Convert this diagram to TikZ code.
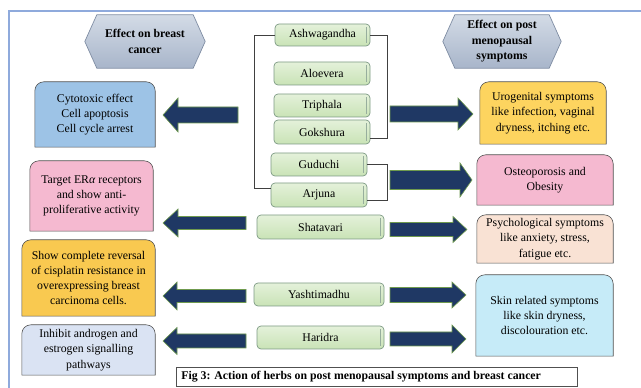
\documentclass[tikz,border=0pt]{standalone}
\usepackage{fontspec}
\setmainfont{Liberation Serif}
\usetikzlibrary{backgrounds}
\definecolor{navy}{HTML}{1F3864}
\definecolor{arrowedge}{HTML}{6F9A4E}
\definecolor{framecol}{HTML}{8FAADC}
\definecolor{cytofill}{HTML}{9DC3E6}
\definecolor{pinkfill}{HTML}{F5B9D0}
\definecolor{yellowL}{HTML}{F9C950}
\definecolor{yellowR}{HTML}{FDD45F}
\definecolor{inhibfill}{HTML}{DAE3F3}
\definecolor{psychfill}{HTML}{F9E2D4}
\definecolor{skinfill}{HTML}{C6EBF8}
\definecolor{herbedge}{HTML}{7D9A84}
\definecolor{herbtop}{HTML}{E4F1DA}
\definecolor{herbbot}{HTML}{C9E3B6}
\definecolor{hextop}{HTML}{D3DBE6}
\definecolor{hexbot}{HTML}{A8B5CA}
\definecolor{hexedge}{HTML}{7F8DA3}
\definecolor{boxedge}{HTML}{505050}
\tikzset{
  basefont/.style={font=\fontsize{11.8}{15.2}\selectfont},
  boxtext/.style={basefont, align=center, inner sep=0pt},
  boxline/.style={draw=boxedge, line width=0.6pt},
  herb/.style={basefont, draw=herbedge, line width=0.7pt, rounded corners=4pt,
    top color=herbtop, bottom color=herbbot, inner sep=0pt,
    path picture={\draw[herbedge!80, line width=0.5pt]
      ([xshift=-3.5pt,yshift=-3pt]path picture bounding box.north east) --
      ([xshift=-3.5pt,yshift=3pt]path picture bounding box.south east);}},
  bracket/.style={draw=black!75, line width=0.8pt},
  blockarrow/.style={fill=navy, draw=arrowedge, line width=0.6pt},
  hextext/.style={font=\fontsize{11.8}{15.5}\selectfont\bfseries, align=center, inner sep=0pt}
}
% name, fill, cx, cy, w, h, text
\newcommand{\mytopbox}[7]{%
  \node[boxtext, minimum width=#5pt, minimum height=#6pt] (#1) at (#3,#4) {#7};
  \begin{pgfonlayer}{background}
  \path[boxline, fill=#2] (#1.south west) -- ([yshift=-9pt]#1.north west)
    arc[start angle=180, end angle=90, radius=9pt] -- ([xshift=-9pt]#1.north east)
    arc[start angle=90, end angle=0, radius=9pt] -- (#1.south east) -- cycle;
  \end{pgfonlayer}}
% name, cx, cy, w, h, text
\newcommand{\myhexa}[6]{%
  \node[hextext, minimum width=#4pt, minimum height=#5pt] (#1) at (#2,#3) {#6};
  \begin{pgfonlayer}{background}
  \path[draw=hexedge, line width=0.7pt, top color=hextop, bottom color=hexbot]
    (#1.west) -- ([xshift=12pt]#1.north west) -- ([xshift=-12pt]#1.north east)
    -- (#1.east) -- ([xshift=-12pt]#1.south east) -- ([xshift=12pt]#1.south west) -- cycle;
  \end{pgfonlayer}}
% tail x, head base x, tip x, centre y, head half, shaft half
\newcommand{\myarrow}[6]{%
  \path[blockarrow] (#1,#4+#6) -- (#2,#4+#6) -- (#2,#4+#5) -- (#3,#4)
    -- (#2,#4-#5) -- (#2,#4-#6) -- (#1,#4-#6) -- cycle;}
\begin{document}
\begin{tikzpicture}[x=1pt, y=1pt]
\useasboundingbox (0,0) rectangle (641,388);
% frame
\draw[framecol, line width=1.2pt] (641,377) -- (9,377) -- (9,0);

% headers
\myhexa{hexL}{145}{346.5}{120}{53}{Effect on breast\\cancer}
\myhexa{hexR}{502}{346.5}{118}{53}{Effect on post\\menopausal\\symptoms}

% herbs
\node[herb, minimum width=95pt, minimum height=22pt] (ashwa) at (322.5,353) {Ashwagandha};
\node[herb, minimum width=96pt, minimum height=23pt] (aloe) at (322,314.5) {Aloevera};
\node[herb, minimum width=96pt, minimum height=23pt] (trip) at (322,282.5) {Triphala};
\node[herb, minimum width=96pt, minimum height=24pt] (goks) at (322,256) {Gokshura};
\node[herb, minimum width=96pt, minimum height=23pt] (gud) at (319,223.5) {Guduchi};
\node[herb, minimum width=96pt, minimum height=24pt] (arj) at (319,193) {Arjuna};
\node[herb, minimum width=127pt, minimum height=24pt] (shat) at (320.5,161) {Shatavari};
\node[herb, minimum width=130pt, minimum height=23pt] (yash) at (319,93.5) {Yashtimadhu};
\node[herb, minimum width=127pt, minimum height=23pt] (hari) at (320.5,50.5) {Haridra};

% brackets
\draw[bracket] (ashwa.west) -- ++(-20,0) |- ([yshift=7pt]arj.west);
\draw[bracket] (ashwa.east) -- ++(17,0) |- ([yshift=-6pt]goks.east);
\draw[bracket] (gud.east) -- ++(20,0) |- ([yshift=-5pt]arj.east);

% left effect boxes
\mytopbox{cyto}{cytofill}{95}{273.5}{120}{65}{Cytotoxic effect\\Cell apoptosis\\Cell cycle arrest}
\mytopbox{target}{pinkfill}{91.5}{192}{123}{70}{Target ER\textit{α} receptors\\and show anti-\\proliferative activity}
\mytopbox{show}{yellowL}{88.5}{110}{133}{76}{Show complete reversal\\of cisplatin resistance in\\overexpressing breast\\carcinoma cells.}
\mytopbox{inhib}{inhibfill}{88.5}{38}{133}{50}{Inhibit androgen and\\estrogen signalling\\pathways}

% right effect boxes
\mytopbox{uro}{yellowR}{543}{275}{126}{62}{Urogenital symptoms\\like infection, vaginal\\dryness, itching etc.}
\mytopbox{osteo}{pinkfill}{545}{208}{136}{50}{Osteoporosis and\\Obesity}
\mytopbox{psych}{psychfill}{545}{149}{136}{48}{Psychological symptoms\\like anxiety, stress,\\fatigue etc.}
\mytopbox{skin}{skinfill}{544.5}{72.5}{137}{81}{Skin related symptoms\\like skin dryness,\\discolouration etc.}

% block arrows
\myarrow{238}{178}{163}{273}{17}{8}
\myarrow{390}{458}{473}{274}{16}{8}
\myarrow{246}{178}{163}{165}{14}{6.5}
\myarrow{390}{460}{472}{208}{17}{9.5}
\myarrow{390}{453}{467}{158.5}{13}{7}
\myarrow{246}{177}{163}{92}{14}{6.5}
\myarrow{246}{177}{163}{47}{13.5}{7}
\myarrow{390}{452}{466}{93}{13}{7.5}
\myarrow{390}{452}{466}{49}{14}{7}

% caption
\node[draw=boxedge, line width=0.6pt, minimum width=401pt, minimum height=19pt, inner sep=0pt,
  anchor=west, font=\fontsize{11.8}{14}\selectfont\bfseries] (cap) at (176,11.5)
  {\makebox[391pt][l]{Fig 3: Action of herbs on post menopausal symptoms and breast cancer}};
\end{tikzpicture}
\end{document}
